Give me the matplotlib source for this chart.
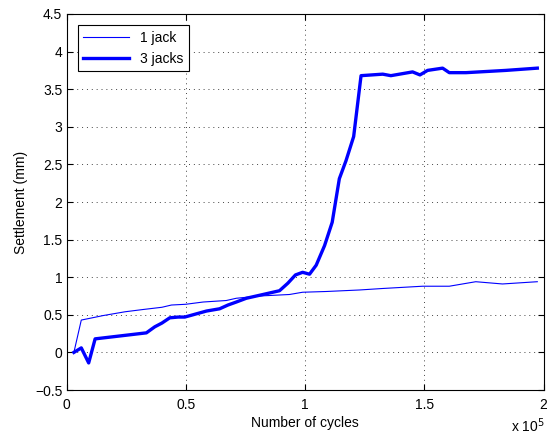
import numpy as np
import matplotlib
matplotlib.use('Agg')
import matplotlib.pyplot as plt

plt.rcParams['font.family'] = ['Liberation Sans', 'DejaVu Sans']

# cycles in units of 1e5, settlement in mm
x_1jack = [0.031, 0.062, 0.154, 0.245, 0.32, 0.40, 0.44, 0.50, 0.573, 0.67, 0.712,
           0.81, 0.935, 0.99, 1.09, 1.228, 1.326, 1.493, 1.605, 1.716, 1.828, 1.974]
y_1jack = [0.0, 0.43, 0.49, 0.54, 0.57, 0.60, 0.63, 0.64, 0.67, 0.69, 0.72,
           0.75, 0.77, 0.80, 0.81, 0.83, 0.85, 0.88, 0.88, 0.94, 0.91, 0.94]

x_3jacks = [0.031, 0.062, 0.093, 0.12, 0.335, 0.37, 0.40, 0.433, 0.468, 0.496, 0.587,
            0.642, 0.677, 0.712, 0.754, 0.81, 0.893, 0.928, 0.96, 0.99, 1.019, 1.047,
            1.082, 1.114, 1.144, 1.172, 1.204, 1.235, 1.326, 1.36, 1.451, 1.482, 1.514,
            1.577, 1.605, 1.675, 1.842, 1.974]
y_3jacks = [0.0, 0.06, -0.14, 0.18, 0.26, 0.34, 0.39, 0.46, 0.47, 0.47, 0.55,
            0.58, 0.63, 0.67, 0.72, 0.76, 0.82, 0.92, 1.03, 1.065, 1.04, 1.16,
            1.42, 1.73, 2.31, 2.55, 2.87, 3.68, 3.70, 3.68, 3.73, 3.69, 3.75,
            3.78, 3.72, 3.72, 3.75, 3.78]

fig = plt.figure(figsize=(5.47, 4.41), dpi=100)
ax = fig.add_axes([66.5/547, 1 - 390/441, 477/547, 376/441])

ax.plot(np.array(x_1jack)*1e5, y_1jack, color='#0000ff', lw=0.8, label='1 jack')
ax.plot(np.array(x_3jacks)*1e5, y_3jacks, color='#0000ff', lw=2.4, label='3 jacks')

ax.set_xlim(0, 2e5)
ax.set_ylim(-0.5, 4.5)
ax.set_xticks([0, 0.5e5, 1e5, 1.5e5, 2e5])
ax.set_xticklabels(['0', '0.5', '1', '1.5', '2'])
ax.set_yticks(np.arange(-0.5, 4.51, 0.5))
ax.set_yticklabels(['\u22120.5', '0', '0.5', '1', '1.5', '2', '2.5', '3', '3.5', '4', '4.5'])
ax.tick_params(direction='in', labelsize=10, length=4, top=True, right=True)
ax.tick_params(axis='x', pad=6)
ax.tick_params(axis='y', pad=3)
ax.grid(True, linestyle=(0, (1, 4)), color='#444444', lw=0.7)
for s in ax.spines.values():
    s.set_linewidth(0.8)

ax.set_xlabel('Number of cycles', fontsize=10, labelpad=3)
ax.set_ylabel('Settlement (mm)', fontsize=10, labelpad=5)
fig.text(511/547, 1 - 432/441, r'x 10$^5$', fontsize=10, ha='left', va='baseline')

leg = ax.legend(loc='upper left', fontsize=10, fancybox=False, framealpha=1,
                edgecolor='black', borderaxespad=0.8, handlelength=3.3)
leg.get_frame().set_linewidth(0.8)

fig.savefig('out.png', dpi=100)
